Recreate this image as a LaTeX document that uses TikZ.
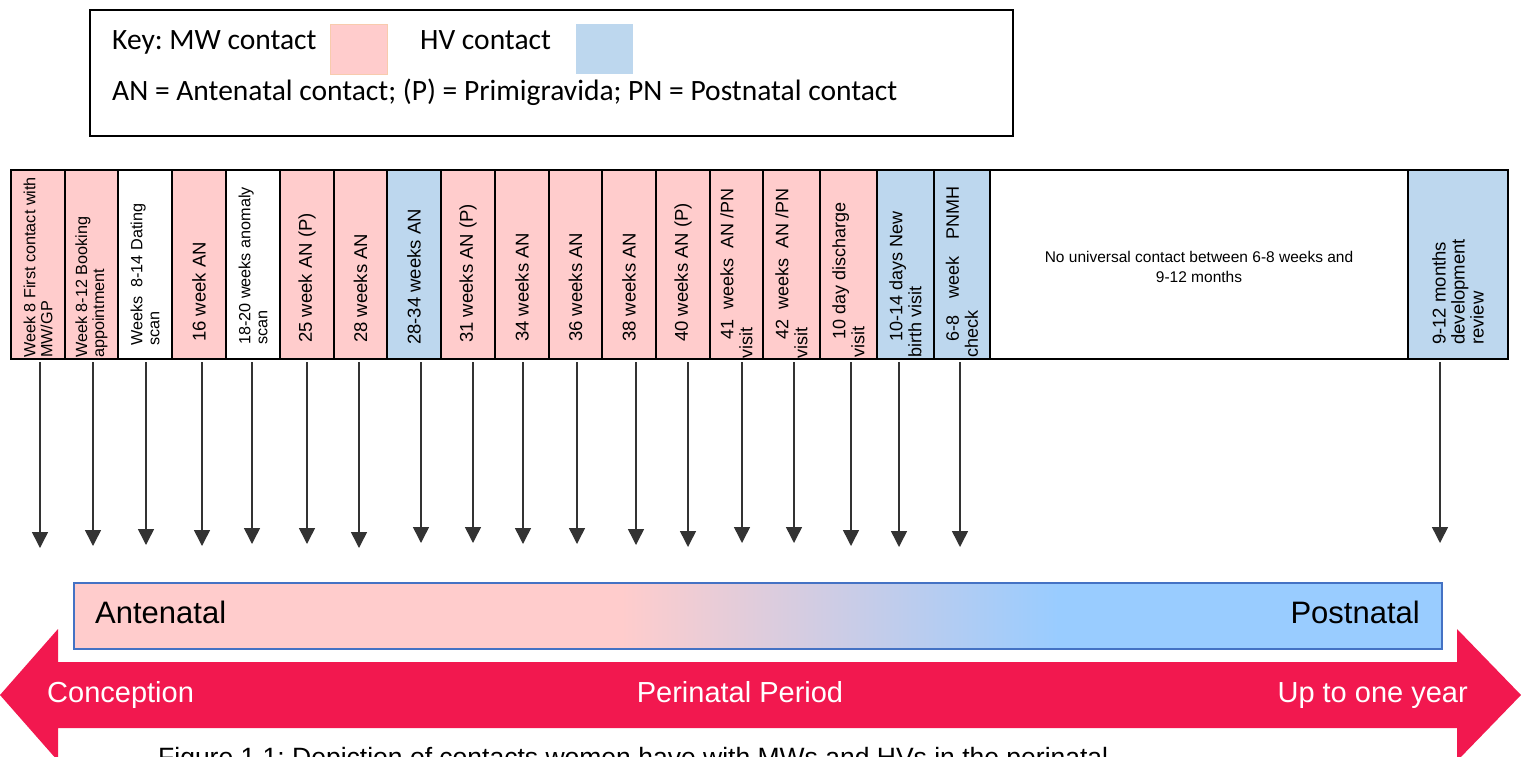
\documentclass[tikz,border=0pt]{standalone}
\usepackage{fontspec}
\setmainfont{Liberation Sans}
\newfontfamily\keyfont{Carlito}
\usepackage{tikz}
\usetikzlibrary{arrows.meta,positioning}
\frenchspacing

\definecolor{mw}{HTML}{FFCCCC}
\definecolor{hv}{HTML}{BDD7EE}
\definecolor{keyedge}{HTML}{F8CBAD}
\definecolor{barpink}{HTML}{FFCCCC}
\definecolor{barblue}{HTML}{99CCFF}
\definecolor{barline}{HTML}{4472C4}
\definecolor{perired}{HTML}{F2184F}

\pgfdeclarehorizontalshading{perishade}{100bp}{color(0bp)=(barpink); color(45bp)=(barpink); color(61bp)=(barblue); color(100bp)=(barblue)}

\begin{document}
\begin{tikzpicture}[x=1pt,y=-1pt,
  cell/.style={draw=black, line width=2pt, inner sep=0pt, outer sep=0pt, minimum height=189pt},
  coltext/.style={rotate=90, anchor=west, align=left, inner sep=0pt, font=\fontsize{18.5}{19}\selectfont},
  colsmall/.style={coltext, font=\fontsize{16.2}{17}\selectfont},
  txt/.style={inner sep=0pt},
  keytext/.style={txt, anchor=base west, font=\keyfont\fontsize{29.5}{34}\selectfont},
  swatch/.style={minimum width=57pt, minimum height=50pt, inner sep=0pt},
  tick/.style={draw=black!80, line width=1.5pt, -{Triangle[width=16pt,length=16pt]}, shorten <=3pt}]
\useasboundingbox (0,0) rectangle (1521,756);
\clip (0,0) rectangle (1521,756);
\fill[white] (0,0) rectangle (1521,756);

% Key
\node[draw, line width=1.5pt, minimum width=923pt, minimum height=126pt] (key) at (551.5,73) {};
\node[keytext] (mwlabel) at (112,49) {Key: MW contact};
\node[swatch, fill=mw, draw=keyedge, line width=1pt] (mwkey) at (359,49) {};
\node[keytext] (hvlabel) at (420,49) {HV contact};
\node[swatch, fill=hv] (hvkey) at (604.5,49) {};
\node[keytext] (abbr) at (112,100) {AN = Antenatal contact; (P) = Primigravida; PN = Postnatal contact};

% Contacts row
\foreach \i/\l/\r/\c in {1/11/65/mw, 2/65/118/mw, 3/118/172/white, 4/172/226/mw,
    5/226/280/white, 6/280/334/mw, 7/334/387/mw, 8/387/441/hv, 9/441/495/mw,
    10/495/549/mw, 11/549/602/mw, 12/602/656/mw, 13/656/710/mw, 14/710/763/mw,
    15/763/820/mw, 16/820/877/mw, 17/877/934/hv, 18/934/990/hv, 19/990/1408/white,
    20/1408/1508/hv}
  \node[cell, fill=\c, minimum width={(\r-\l)*1pt}] (c\i) at ({(\l+\r)/2},264.5) {};

% Contact labels
\node[colsmall] at ([yshift=1pt]c1.south) {Week 8 First contact with\\MW/GP};
\node[colsmall] at ([yshift=1pt]c2.south) {Week 8-12 Booking\\appointment};
\node[colsmall] at ([yshift=13pt]c3.south) {Weeks\ \ 8-14 Dating\\scan};
\node[coltext] at ([yshift=17pt]c4.south) {16 week AN};
\node[colsmall] at ([yshift=14pt]c5.south) {18-20 weeks anomaly\\scan};
\node[coltext] at ([yshift=16pt]c6.south) {25 week AN (P)};
\node[coltext] at ([yshift=16pt]c7.south) {28 weeks AN};
\node[coltext] at ([yshift=14pt]c8.south) {28-34 weeks AN};
\node[coltext] at ([yshift=16pt]c9.south) {31 weeks AN (P)};
\node[coltext] at ([yshift=17pt]c10.south) {34 weeks AN};
\node[coltext] at ([yshift=17pt]c11.south) {36 weeks AN};
\node[coltext] at ([yshift=17pt]c12.south) {38 weeks AN};
\node[coltext] at ([yshift=17pt]c13.south) {40 weeks AN (P)};
\node[coltext, font=\fontsize{18}{19}\selectfont] at ([yshift=0pt]c14.south) {\hspace*{19pt}41\ \ weeks\ \ AN\ /PN\\visit};
\node[coltext, font=\fontsize{18}{19}\selectfont] at ([yshift=0pt]c15.south) {\hspace*{19pt}42\ \ weeks\ \ AN\ /PN\\visit};
\node[coltext, font=\fontsize{18}{19}\selectfont] at ([yshift=1pt]c16.south) {\hspace*{18pt}10 day discharge\\visit};
\node[coltext, font=\fontsize{18}{19}\selectfont] at ([yshift=1pt]c17.south) {\hspace*{16pt}10-14 days New\\birth visit};
\node[coltext, font=\fontsize{18}{19}\selectfont] at ([yshift=1pt]c18.south) {\hspace*{16pt}6-8\hspace{12pt} week\hspace{12pt} PNMH\\check};
\node[txt, align=center, font=\fontsize{15.5}{20}\selectfont] at ([yshift=-2.5pt]c19.center)
  {No universal contact between 6-8 weeks and\\9-12 months};
\node[coltext] at ([yshift=14pt]c20.south) {9-12 months\\development\\review};

% Arrows down to the timeline
\foreach \i/\ax/\ty in {1/40/548, 2/93/546, 3/146/545, 4/202/546, 5/252/544, 6/307/544,
    7/359/548, 8/421/543, 9/473/543, 10/523/544, 11/577/544, 12/636/545, 13/688/547,
    14/742/543, 15/794/543, 16/851/546, 17/899/547, 18/960/547, 20/1440/543} {
  \coordinate (t\i) at (\ax,\ty);
  \draw[tick] (c\i.south -| t\i) -- (t\i);
}

% Antenatal to postnatal bar
\node[draw=barline, line width=1.5pt, shading=perishade, minimum width=1368pt,
  minimum height=66pt, inner sep=0pt] (bar) at (758,616) {};
\node[txt, anchor=base west, font=\fontsize{31}{36}\selectfont] (ante) at (95,623) {Antenatal};
\node[txt, anchor=base east, font=\fontsize{31}{36}\selectfont] (post) at (1420,623) {Postnatal};

% Perinatal period arrow
\fill[perired] (0,695) -- (58,629) -- (58,662) -- (1457,662) -- (1457,629) -- (1521,695)
  -- (1457,761) -- (1457,728) -- (58,728) -- (58,761) -- cycle;
\node[txt, anchor=base west, text=white, font=\fontsize{29}{34}\selectfont] (conc) at (47,702) {Conception};
\node[txt, anchor=base, text=white, font=\fontsize{29}{34}\selectfont] (peri) at (740,702) {Perinatal Period};
\node[txt, anchor=base east, text=white, font=\fontsize{29}{34}\selectfont] (year) at (1468,702) {Up to one year};

% Caption (cut at the lower edge)
\node[txt, anchor=base west, font=\fontsize{26.5}{32}\selectfont] (cap) at (158,766)
  {Figure 1.1: Depiction of contacts women have with MWs and HVs in the perinatal};
\end{tikzpicture}
\end{document}
